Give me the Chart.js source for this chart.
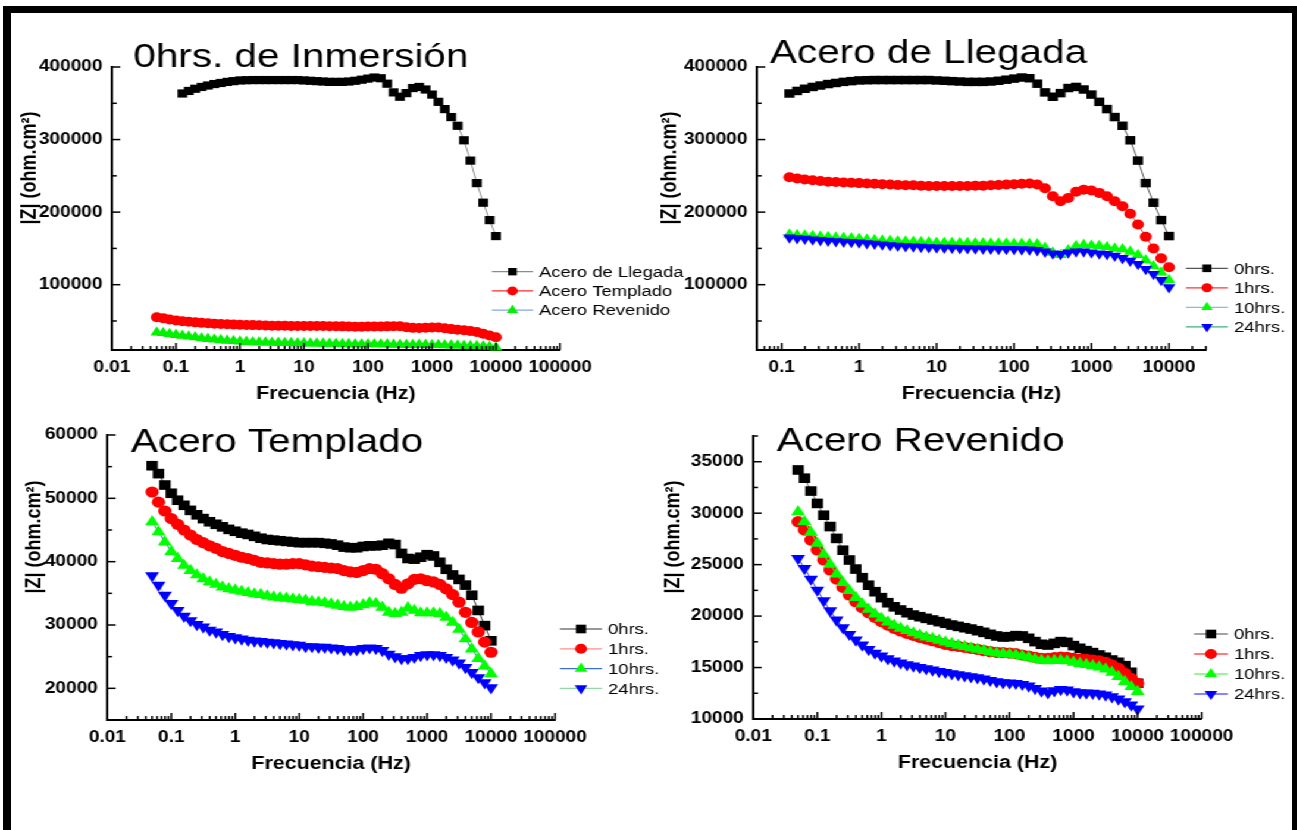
<!DOCTYPE html>
<html lang="es">

<head>
    <meta http-equiv="Content-Type" content="text/html;charset=UTF-8">
    <title>Impedancia |Z| vs frecuencia</title>
    <script src="https://cdnjs.cloudflare.com/ajax/libs/Chart.js/4.4.0/chart.umd.js"></script>
    <style>
        body { margin: 0; background: #fff; overflow: hidden; }
        #frame {
            position: absolute; left: 3px; top: 6px; width: 1294px; height: 840px; box-sizing: border-box;
            border-style: solid; border-color: #000; border-width: 7px 5px 0 8px;
        }
        /* the original figure is stretched sideways, so the whole drawing is too */
        #wrap {
            position: absolute; left: 0; top: 0; width: 1090px; height: 830px;
            transform: scaleX(1.19); transform-origin: 0 0;
        }
        #wrap canvas { position: absolute; left: 0; top: 0; }
    </style>
</head>

<body>
    <div id="frame"></div>
    <div id="wrap">
        <canvas id="c1" width="1090" height="830"></canvas>
        <canvas id="c2" width="1090" height="830"></canvas>
        <canvas id="c3" width="1090" height="830"></canvas>
        <canvas id="c4" width="1090" height="830"></canvas>
    </div>

    <script>
        // frequencies, high to low (10 points per decade)
        const freqHz = [10000, 7943, 6310, 5012, 3981, 3162, 2512, 1995, 1585, 1259,
            1000, 794.3, 631.0, 501.2, 398.1, 316.2, 251.2, 199.5, 158.5, 125.9,
            100, 79.43, 63.10, 50.12, 39.81, 31.62, 25.12, 19.95, 15.85, 12.59,
            10, 7.943, 6.310, 5.012, 3.981, 3.162, 2.512, 1.995, 1.585, 1.259,
            1, 0.7943, 0.6310, 0.5012, 0.3981, 0.3162, 0.2512, 0.1995, 0.1585, 0.1259,
            0.1, 0.07943, 0.06310, 0.05012];

        const xTickLabels = ['0.01', '0.1', '1', '10', '100', '1000', '10000', '100000'];
        const hourLabels = ['0hrs.', '1hrs.', '10hrs.', '24hrs.'];
        const steelLabels = ['Acero de Llegada', 'Acero Templado', 'Acero Revenido'];

        // |Z| in ohm.cm2, Acero de Llegada (10000 Hz down to 0.126 Hz)
        const llegada0h = [167000, 189000, 213000, 240000, 271000, 299000, 319000, 331000, 342000, 352000,
            362000, 369000, 372500, 371000, 364000, 359000, 365000, 377000, 384500, 385500,
            384000, 382500, 381000, 380000, 379500, 379500, 379500, 380000, 380500, 381000,
            381500, 382000, 382000, 382000, 382000, 382000, 382000, 382000, 382000, 381800,
            381500, 380500, 379500, 378000, 376500, 374500, 372500, 370000, 367000, 363500];
        const llegada1h = [124000, 136500, 150000, 166000, 183000, 197700, 208000, 215000, 222000, 226500,
            229700, 231000, 228000, 219500, 215000, 222000, 233000, 238000, 239500, 239000,
            238500, 238000, 237500, 237000, 236500, 236500, 236000, 236000, 236000, 236000,
            236000, 236000, 236500, 237000, 237000, 237500, 238000, 238500, 239000, 239500,
            240000, 240500, 241000, 241500, 242000, 243000, 244000, 245000, 246500, 248000];
        const llegada10h = [106400, 117000, 126000, 133800, 141000, 145700, 148900, 150000, 152000, 153400,
            154000, 155000, 153400, 147500, 141000, 144300, 151000, 155700, 156200, 156400,
            156600, 156800, 157000, 157000, 157200, 157300, 157400, 157600, 157800, 158000,
            158000, 158400, 158800, 159200, 159600, 160000, 160500, 161000, 161700, 162500,
            163500, 164000, 164600, 165200, 165800, 166500, 167200, 168000, 168700, 169400];
        const llegada24h = [96400, 106400, 114600, 121500, 128300, 132900, 136500, 139700, 142000, 143000,
            144300, 145700, 145700, 144300, 142000, 142900, 145500, 147500, 148300, 148600,
            148900, 149000, 149200, 149400, 149600, 149800, 150000, 150300, 150600, 150900,
            151100, 151500, 152000, 152500, 153000, 153600, 154300, 155200, 156200, 157100,
            158000, 158600, 159200, 159800, 160500, 161300, 162200, 163100, 164000, 164800];

        // Acero Templado (10000 Hz down to 0.05 Hz)
        const templado0h = [27500, 29900, 32300, 34700, 36300, 37200, 37900, 38800, 39900, 40900,
            41100, 40700, 40400, 40500, 41300, 42700, 42900, 42600, 42500, 42500,
            42400, 42200, 42200, 42300, 42600, 42800, 42900, 43000, 43000, 43000,
            43000, 43100, 43200, 43300, 43400, 43500, 43700, 44000, 44300, 44500,
            44800, 45100, 45500, 45900, 46300, 46800, 47400, 48100, 48900, 49700,
            50800, 52100, 53900, 55150];
        const templado1h = [25700, 27300, 28900, 30400, 32000, 33600, 34800, 35700, 36400, 36800,
            37000, 37300, 37200, 36500, 35800, 36400, 37300, 38100, 38800, 38900,
            38600, 38300, 38400, 38600, 38900, 39000, 39100, 39200, 39300, 39500,
            39700, 39700, 39600, 39600, 39700, 39800, 39900, 40200, 40500, 40700,
            41000, 41300, 41600, 42100, 42500, 43000, 43500, 44200, 45000, 45900,
            46800, 48000, 49400, 51000];
        const templado10h = [22300, 23500, 24700, 26200, 27800, 29300, 30400, 31200, 31800, 31900,
            31900, 31900, 32300, 32700, 32000, 31800, 32000, 32800, 33400, 33500,
            33200, 32900, 32800, 32900, 33100, 33300, 33500, 33600, 33700, 33900,
            34000, 34100, 34200, 34300, 34400, 34600, 34800, 34900, 35100, 35300,
            35500, 35700, 36000, 36400, 36800, 37300, 37900, 38600, 39400, 40500,
            41600, 43100, 44700, 46300];
        const templado24h = [20100, 20900, 21700, 22500, 23300, 24000, 24500, 24900, 25200, 25300,
            25300, 25200, 24900, 24700, 24700, 25000, 25400, 26000, 26300, 26400,
            26300, 26100, 26100, 26100, 26300, 26400, 26500, 26500, 26600, 26600,
            26800, 26900, 27000, 27100, 27200, 27300, 27400, 27500, 27600, 27800,
            28000, 28200, 28500, 28900, 29200, 29700, 30100, 30700, 31400, 32300,
            33400, 34700, 36300, 37800];

        // Acero Revenido (10000 Hz down to 0.05 Hz)
        const revenido0h = [13470, 14540, 15180, 15510, 15730, 16000, 16220, 16450, 16640, 16870,
            17130, 17450, 17520, 17350, 17190, 17260, 17520, 17840, 18070, 18100,
            18000, 17970, 18070, 18230, 18420, 18580, 18740, 18870, 19000, 19130,
            19300, 19460, 19620, 19780, 19940, 20100, 20330, 20590, 20900, 21300,
            21790, 22370, 23000, 23730, 24570, 25450, 26400, 27550, 28700, 29800,
            30950, 32150, 33400, 34200];
        const revenido1h = [13470, 13950, 14440, 14930, 15250, 15510, 15640, 15730, 15800, 15830,
            15900, 16000, 16020, 15960, 15900, 15900, 16000, 16120, 16220, 16350,
            16410, 16450, 16480, 16540, 16640, 16770, 16870, 16960, 17060, 17130,
            17260, 17420, 17610, 17770, 17940, 18130, 18320, 18550, 18810, 19130,
            19460, 19880, 20330, 20820, 21400, 22050, 22790, 23600, 24480, 25450,
            26420, 27390, 28360, 29170];
        const revenido10h = [12660, 13140, 13630, 14120, 14540, 14860, 15050, 15180, 15280, 15380,
            15510, 15640, 15700, 15670, 15640, 15700, 15830, 16000, 16120, 16220,
            16280, 16350, 16410, 16510, 16640, 16770, 16900, 17030, 17160, 17320,
            17480, 17640, 17810, 17970, 18160, 18360, 18580, 18810, 19100, 19420,
            19780, 20200, 20660, 21170, 21790, 22470, 23250, 24090, 25030, 26000,
            27070, 28140, 29170, 30140];
        const revenido24h = [10970, 11360, 11690, 11950, 12170, 12330, 12430, 12500, 12530, 12560,
            12660, 12820, 12880, 12750, 12560, 12720, 12980, 13210, 13370, 13470,
            13500, 13530, 13630, 13760, 13890, 14020, 14120, 14210, 14310, 14410,
            14540, 14630, 14760, 14890, 15020, 15150, 15280, 15440, 15640, 15860,
            16120, 16410, 16770, 17190, 17680, 18230, 18870, 19620, 20530, 21500,
            22530, 23600, 24640, 25610];

        Chart.defaults.font.family = '"Liberation Sans", Arial, sans-serif';
        Chart.defaults.color = '#000';

        const Y_AXIS_W = 70, X_AXIS_H = 55, PAGE_W = 1090, PAGE_H = 830;

        function isDecade(v) {
            return Math.abs(Math.log10(v) - Math.round(Math.log10(v))) < 1e-9;
        }

        // inward tick marks, panel title, rotated y title and the little legend
        const decor = {
            id: 'decor',
            afterDraw(chart, args, o) {
                const ctx = chart.ctx, a = chart.chartArea;
                const xs = chart.scales.x, ys = chart.scales.y;
                ctx.save();
                ctx.strokeStyle = '#000';
                ctx.lineWidth = 1.5;
                xs.ticks.forEach(t => {
                    const e = Math.floor(Math.log10(t.value) + 1e-9);
                    const m = t.value / Math.pow(10, e);
                    if (Math.abs(m - Math.round(m)) > 1e-6) return;
                    const px = xs.getPixelForValue(t.value);
                    if (px < a.left - 1 || px > a.right + 1) return;
                    const len = Math.round(m) === 1 ? 7 : 4;
                    ctx.beginPath();
                    ctx.moveTo(px, a.bottom);
                    ctx.lineTo(px, a.bottom - len);
                    ctx.stroke();
                });
                ys.ticks.forEach(t => {
                    const py = ys.getPixelForValue(t.value);
                    const len = t.value % o.yMajor === 0 ? 7 : 4;
                    ctx.beginPath();
                    ctx.moveTo(a.left, py);
                    ctx.lineTo(a.left + len, py);
                    ctx.stroke();
                });

                ctx.fillStyle = '#000';
                ctx.font = '34px "Liberation Sans", Arial, sans-serif';
                ctx.textAlign = 'left';
                ctx.textBaseline = 'alphabetic';
                ctx.fillText(o.title, o.titleX, o.titleY);

                ctx.save();
                ctx.translate(o.yTitleX, o.yTitleY);
                ctx.rotate(-Math.PI / 2);
                ctx.font = 'bold 18px "Liberation Sans", Arial, sans-serif';
                ctx.textAlign = 'center';
                ctx.textBaseline = 'middle';
                ctx.fillText('|Z| (ohm.cm²)', 0, 0);
                ctx.restore();

                ctx.font = '15.5px "Liberation Sans", Arial, sans-serif';
                ctx.textBaseline = 'middle';
                chart.data.datasets.forEach((ds, i) => {
                    const y = o.legend.y + i * o.legend.gap;
                    const x0 = o.legend.x, x1 = o.legend.x + o.legend.len;
                    ctx.strokeStyle = ds.borderColor;
                    ctx.lineWidth = 1.2;
                    ctx.beginPath();
                    ctx.moveTo(x0, y);
                    ctx.lineTo(x1, y);
                    ctx.stroke();
                    ctx.fillStyle = ds.pointBackgroundColor;
                    Chart.helpers.drawPoint(ctx, {
                        pointStyle: ds.pointStyle, radius: ds.pointRadius * 0.9,
                        rotation: ds.pointRotation, borderWidth: 0
                    }, (x0 + x1) / 2, y);
                    ctx.fillStyle = '#000';
                    ctx.fillText(ds.label, x1 + 5, y + 1);
                });
                ctx.restore();
            }
        };

        function makePanel(id, p) {
            new Chart(document.getElementById(id), {
                type: 'line',
                data: {
                    datasets: p.series.map((s, i) => ({
                        label: s.label,
                        data: s.values.map((v, k) => ({ x: freqHz[k], y: v })),
                        borderColor: s.line,
                        borderWidth: 1,
                        pointStyle: s.style,
                        pointRotation: s.rot || 0,
                        pointRadius: s.r,
                        pointBackgroundColor: s.fill,
                        pointBorderWidth: 0,
                        order: -i,
                        clip: false
                    }))
                },
                options: {
                    responsive: false,
                    animation: false,
                    events: [],
                    layout: {
                        padding: {
                            left: p.area.left - Y_AXIS_W, top: p.area.top,
                            right: PAGE_W - p.area.right, bottom: PAGE_H - p.area.bottom - X_AXIS_H
                        }
                    },
                    scales: {
                        x: {
                            type: 'logarithmic',
                            min: p.xMin, max: p.xMax,
                            grid: { display: false, drawTicks: false },
                            border: { display: true, color: '#000', width: 2 },
                            ticks: {
                                autoSkip: false, maxRotation: 0, padding: 8,
                                font: { size: 16, weight: 'bold' },
                                callback: v => isDecade(v) ? xTickLabels[Math.round(Math.log10(v)) + 2] : ''
                            },
                            title: {
                                display: true, text: 'Frecuencia (Hz)', padding: 0,
                                font: { size: 18, weight: 'bold' }
                            },
                            afterFit: s => { s.height = X_AXIS_H; }
                        },
                        y: {
                            min: p.yMin, max: p.yMax,
                            grid: { display: false, drawTicks: false },
                            border: { display: true, color: '#000', width: 2 },
                            ticks: {
                                autoSkip: false, padding: 8,
                                font: { size: 16, weight: 'bold' },
                                callback: v => v % p.yMajor === 0 ? String(v) : ''
                            },
                            // ticks on round multiples of the minor step, not counted from the axis minimum
                            afterBuildTicks: s => {
                                const list = [];
                                for (let v = Math.ceil(p.yMin / p.yMinor) * p.yMinor; v <= p.yMax; v += p.yMinor) {
                                    list.push({ value: v });
                                }
                                s.ticks = list;
                            },
                            afterFit: s => { s.width = Y_AXIS_W; }
                        }
                    },
                    plugins: {
                        legend: { display: false },
                        tooltip: { enabled: false },
                        decor: {
                            title: p.title, titleX: p.titleX, titleY: p.titleY,
                            yTitleX: p.yTitleX, yTitleY: p.yTitleY,
                            yMajor: p.yMajor, legend: p.legend
                        }
                    }
                },
                plugins: [decor]
            });
        }

        makePanel('c1', {
            title: '0hrs. de Inmersión', titleX: 112, titleY: 67, yTitleX: 25, yTitleY: 168,
            area: { left: 94.1, top: 67, right: 470.6, bottom: 350 },
            xMin: 0.01, xMax: 100000, yMin: 10000, yMax: 400000, yMajor: 100000, yMinor: 50000,
            legend: { x: 413.4, y: 271.7, gap: 19.2, len: 34.5 },
            series: [
                { label: steelLabels[0], values: llegada0h, line: '#8c8c8c', fill: '#000000', style: 'rect', r: 5.8 },
                { label: steelLabels[1], values: templado0h, line: '#ff2a2a', fill: '#ff0000', style: 'circle', r: 5 },
                { label: steelLabels[2], values: revenido0h, line: '#7fa9ea', fill: '#00f000', style: 'triangle', r: 6.2 }
            ]
        });

        makePanel('c2', {
            title: 'Acero de Llegada', titleX: 647, titleY: 63, yTitleX: 563, yTitleY: 168,
            area: { left: 636.1, top: 67, right: 1013.4, bottom: 350 },
            xMin: 0.048, xMax: 30000, yMin: 10000, yMax: 400000, yMajor: 100000, yMinor: 50000,
            legend: { x: 996.6, y: 268.3, gap: 19.5, len: 35.3 },
            series: [
                { label: hourLabels[0], values: llegada0h, line: '#555555', fill: '#000000', style: 'rect', r: 6 },
                { label: hourLabels[1], values: llegada1h, line: '#ff3333', fill: '#ff0000', style: 'circle', r: 5 },
                { label: hourLabels[2], values: llegada10h, line: '#8db6ec', fill: '#00ff00', style: 'triangle', r: 6.2 },
                { label: hourLabels[3], values: llegada24h, line: '#3cb371', fill: '#0000ff', style: 'triangle', rot: 180, r: 6.2 }
            ]
        });

        makePanel('c3', {
            title: 'Acero Templado', titleX: 110, titleY: 452, yTitleX: 29.4, yTitleY: 537,
            area: { left: 90.2, top: 435, right: 466.4, bottom: 720 },
            xMin: 0.01, xMax: 100000, yMin: 15000, yMax: 60000, yMajor: 10000, yMinor: 5000,
            legend: { x: 470.6, y: 629, gap: 19.8, len: 35.3 },
            series: [
                { label: hourLabels[0], values: templado0h, line: '#333333', fill: '#000000', style: 'rect', r: 6.8 },
                { label: hourLabels[1], values: templado1h, line: '#ff8f8f', fill: '#ff0000', style: 'circle', r: 5.6 },
                { label: hourLabels[2], values: templado10h, line: '#3b6fd6', fill: '#00ff00', style: 'triangle', r: 6.8 },
                { label: hourLabels[3], values: templado24h, line: '#96d7a8', fill: '#0000ff', style: 'triangle', rot: 180, r: 6.8 }
            ]
        });

        makePanel('c4', {
            title: 'Acero Revenido', titleX: 652.7, titleY: 451, yTitleX: 566.4, yTitleY: 537,
            area: { left: 633, top: 436, right: 1009.8, bottom: 719 },
            xMin: 0.01, xMax: 100000, yMin: 10000, yMax: 37500, yMajor: 5000, yMinor: 2500,
            legend: { x: 1003.4, y: 634, gap: 20, len: 28.5 },
            series: [
                { label: hourLabels[0], values: revenido0h, line: '#666666', fill: '#000000', style: 'rect', r: 6.8 },
                { label: hourLabels[1], values: revenido1h, line: '#ff2020', fill: '#ff0000', style: 'circle', r: 5.6 },
                { label: hourLabels[2], values: revenido10h, line: '#55ee55', fill: '#00ff00', style: 'triangle', r: 6.8 },
                { label: hourLabels[3], values: revenido24h, line: '#3333ff', fill: '#0000ff', style: 'triangle', rot: 180, r: 6.8 }
            ]
        });
    </script>
</body>

</html>
